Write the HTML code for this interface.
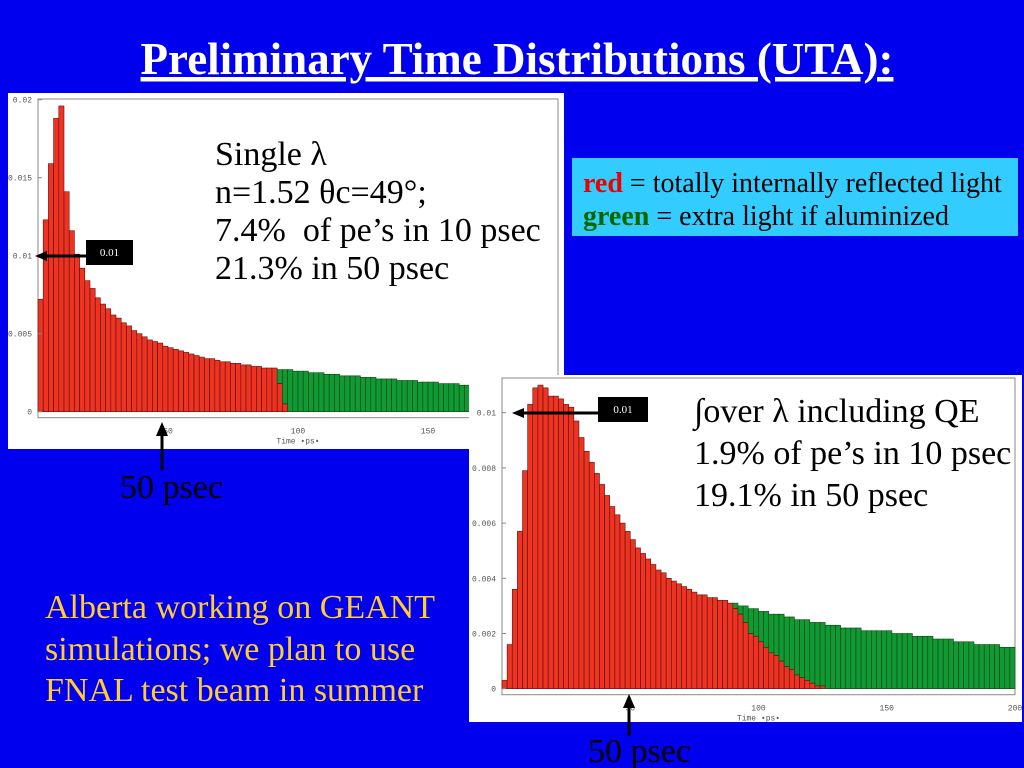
<!DOCTYPE html>
<html><head><meta charset="utf-8"><style>
body{margin:0;width:1024px;height:768px;overflow:hidden;background:#0000ee;}
svg{position:absolute;left:0;top:0}
svg text{font-family:"Liberation Serif","Times New Roman",serif;white-space:pre;}
svg text.mono{font-family:"Liberation Mono","Courier New",monospace;}
</style></head><body>
<svg id="s" width="1024" height="768" viewBox="0 0 1024 768" xmlns="http://www.w3.org/2000/svg">
<rect x="0" y="0" width="1024" height="768" fill="#0000ee"/>
<text x="517" y="74" text-anchor="middle" fill="#fff" font-weight="bold" font-size="45" text-decoration="underline">Preliminary Time Distributions (UTA):</text>
<g id="c1"></g>
<g id="c2"></g>
<g>
<rect x="572" y="158" width="446" height="78" fill="#33ccff"/>
<text x="583" y="192" font-size="28" fill="#000"><tspan fill="#ee0000" font-weight="bold">red</tspan> = totally internally reflected light</text>
<text x="583" y="225" font-size="28" fill="#000"><tspan fill="#006600" font-weight="bold">green</tspan> = extra light if aluminized</text>
</g>
<g fill="#ffcc33" font-size="34">
<text x="45" y="618">Alberta working on GEANT</text>
<text x="45" y="660">simulations; we plan to use</text>
<text x="45" y="701">FNAL test beam in summer</text>
</g>
<text x="120" y="498" font-size="34" fill="#000">50 psec</text>
<text x="588" y="762" font-size="34" fill="#000">50 psec</text>
<g><line x1="162" y1="470" x2="162" y2="433" stroke="#000" stroke-width="3"/><polygon points="162,422 156,436 168,436" fill="#000"/></g>
<g><line x1="629" y1="736" x2="629" y2="704" stroke="#000" stroke-width="3"/><polygon points="629,694 623,708 635,708" fill="#000"/></g>
</svg>
<script>
// Chart 1 data (2 ps bins)
const c1Total=[0.0072,0.0123,0.0159,0.0188,0.0196,0.0141,0.0116,0.0101,0.0092,0.0084,0.0079,0.0073,0.0069,0.0066,0.0062,
0.0060,0.0057,0.0055,0.0052,0.0050,0.0048,0.0046,0.0045,0.0044,0.0042,0.0041,0.0040,0.0039,0.0038,0.0037,0.0036,0.0035,0.0034,0.0034,0.0033,0.0032,0.0032,0.0031,0.0031,0.0030,0.0030,0.0029,0.0029,0.0028,0.0028,0.0028,
0.0027,0.0027,0.0027,0.0026,0.0026,0.0026,0.0025,0.0025,0.0025,0.0024,0.0024,0.0024,0.0023,0.0023,0.0023,0.0023,0.0022,0.0022,0.0022,0.0021,0.0021,0.0021,0.0021,0.0020,0.0020,0.0020,0.0020,0.0019,0.0019,0.0019,0.0019,0.0018,0.0018,0.0018,0.0018,0.0017,0.0017];
const c1RedEnd=[0.0018,0.0005];
const c1YTicks=[0,0.005,0.01,0.015,0.02];
const c1YLabels=["0","0.005","0.01","0.015","0.02"];
const c1XTicks=[50,100,150];
// Chart 2 data
const c2Total=[0.0003,0.0016,0.0036,0.0057,0.0079,0.0103,0.0109,0.0110,0.0109,0.0106,0.0106,0.0105,0.0103,0.0102,0.0097,0.0091,0.0086,0.0082,0.0078,0.0074,
0.0070,0.0066,0.0063,0.0060,0.0057,0.0054,0.0051,0.0049,0.0047,0.0045,0.0043,0.0042,0.0040,0.0039,0.0038,0.0037,0.0036,0.0035,0.0034,0.0034,
0.0033,0.0033,0.0032,0.0032,0.0031,0.0031,0.0030,0.0030,0.0029,0.0029,0.0028,0.0028,0.0027,0.0027,0.0027,0.0026,0.0026,0.0025,0.0025,0.0025,
0.0024,0.0024,0.0024,0.0023,0.0023,0.0023,0.0022,0.0022,0.0022,0.0022,0.0021,0.0021,0.0021,0.0021,0.0021,0.0021,0.0020,0.0020,0.0020,0.0020,
0.0019,0.0019,0.0019,0.0019,0.0018,0.0018,0.0018,0.0018,0.0017,0.0017,0.0017,0.0017,0.0016,0.0016,0.0016,0.0016,0.0016,0.0015,0.0015,0.0015];
const c2Red=[0.0003,0.0016,0.0036,0.0057,0.0079,0.0103,0.0109,0.0110,0.0109,0.0106,0.0106,0.0105,0.0103,0.0102,0.0097,0.0091,0.0086,0.0082,0.0078,0.0074,
0.0070,0.0066,0.0063,0.0060,0.0057,0.0054,0.0051,0.0049,0.0047,0.0045,0.0043,0.0042,0.0040,0.0039,0.0038,0.0037,0.0036,0.0035,0.0034,0.0034,
0.0033,0.0033,0.0032,0.0032,0.0031,0.0029,0.0027,0.0024,0.0020,0.0019,0.0017,0.0015,0.0013,0.0012,0.0010,0.0008,0.0007,0.0005,0.0004,0.0003,0.0002,0.0001,0.0001];
const c2YTicks=[0,0.002,0.004,0.006,0.008,0.01];
const c2YLabels=["0","0.002","0.004","0.006","0.008","0.01"];
const c2XTicks=[50,100,150,200];
const BIN=2;
const NS="http://www.w3.org/2000/svg";
function mk(tag,a,parent){const e=document.createElementNS(NS,tag);for(const k in a)e.setAttribute(k,a[k]);parent.appendChild(e);return e;}
function draw(g,cfg){
  const sx=v=>cfg.x0+v*cfg.kx, sy=v=>cfg.y0-v*cfg.ky;
  const bg=mk('rect',{x:cfg.px,y:cfg.py,width:cfg.pw,height:cfg.ph,fill:'#fff'},g);
  
  
  const fr=mk('rect',{x:cfg.x0,y:cfg.top,width:sx(200)-cfg.x0,height:cfg.y0+6-cfg.top,fill:'none',stroke:'#888','stroke-width':1},g);
  
  
  cfg.total.forEach((v,i)=>{
    const r=i<cfg.red.length?cfg.red[i]:0;
    if(v>r){const b=mk('rect',{x:sx(i*BIN),y:sy(v),width:BIN*cfg.kx,height:(v-r)*cfg.ky,fill:'#119933',stroke:'#114411','stroke-width':0.6},g);
      
      }
    if(r>0){const b=mk('rect',{x:sx(i*BIN),y:sy(r),width:BIN*cfg.kx,height:r*cfg.ky,fill:'#ee3322',stroke:'#551111','stroke-width':0.6},g);
      
      }
  });
  cfg.yt.forEach((v,i)=>{
    const t=mk('text',{x:cfg.x0-6,y:sy(v)+3,'font-size':8,'class':'mono','text-anchor':'end',fill:'#555'},g);
    t.textContent=cfg.yl[i];
    
    
    mk('line',{x1:cfg.x0,x2:cfg.x0+4,y1:sy(v),y2:sy(v),stroke:'#888'},g);
  });
  cfg.xt.forEach(v=>{
    const t=mk('text',{x:sx(v),y:cfg.y0+22,'font-size':8,'class':'mono','text-anchor':'middle',fill:'#555'},g);
    t.textContent=String(v);
    
    
  });
  const xt=mk('text',{x:sx(100),y:cfg.y0+32,'font-size':8,'class':'mono','text-anchor':'middle',fill:'#555'},g);
  xt.textContent="Time \u2022ps\u2022";
  
  
}
const g1=document.getElementById('c1'),g2=document.getElementById('c2');
const red1=c1Total.slice(0,46).concat(c1RedEnd);
draw(g1,{px:8,py:93,pw:556,ph:356,x0:38,kx:2.6,y0:411.7,ky:15600,top:99,total:c1Total,red:red1,yt:c1YTicks,yl:c1YLabels,xt:c1XTicks});
draw(g2,{px:469,py:375,pw:553,ph:347,x0:502,kx:2.565,y0:688.7,ky:27600,top:378,total:c2Total,red:c2Red,yt:c2YTicks,yl:c2YLabels,xt:c2XTicks});
function annot(g,lines,x,y0,dy,fs,name){lines.forEach((s,i)=>{const t=mk('text',{x:x,y:y0+i*dy,'font-size':fs,fill:'#000'},g);t.textContent=s;
  
  });}
annot(g1,["Single \u03bb","n=1.52 \u03b8c=49\u00b0;","7.4%\u00a0 of pe\u2019s in 10 psec","21.3% in 50 psec"],215,165,38,34,'annotation-single');
annot(g2,["\u222bover \u03bb including QE","1.9% of pe\u2019s in 10 psec","19.1% in 50 psec"],694,422,42,34,'annotation-integrated');
function box(g,bx,by,bw,ax,ay,name){
  const r=mk('g',{},g);
  
  
  mk('line',{x1:bx,y1:ay,x2:ax+10,y2:ay,stroke:'#000','stroke-width':3},r);
  mk('polygon',{points:`${ax},${ay} ${ax+12},${ay-5} ${ax+12},${ay+5}`,fill:'#000'},r);
  mk('rect',{x:bx,y:by,width:bw,height:25,fill:'#000'},r);
  const t=mk('text',{x:bx+bw/2,y:by+16,'font-size':11,fill:'#fff','text-anchor':'middle'},r);t.textContent="0.01";
}
box(g1,86,240,47,35,256,'callout-0.01-chart1');
box(g2,598,397,50,512,413,'callout-0.01-chart2');
</script>
</body></html>
